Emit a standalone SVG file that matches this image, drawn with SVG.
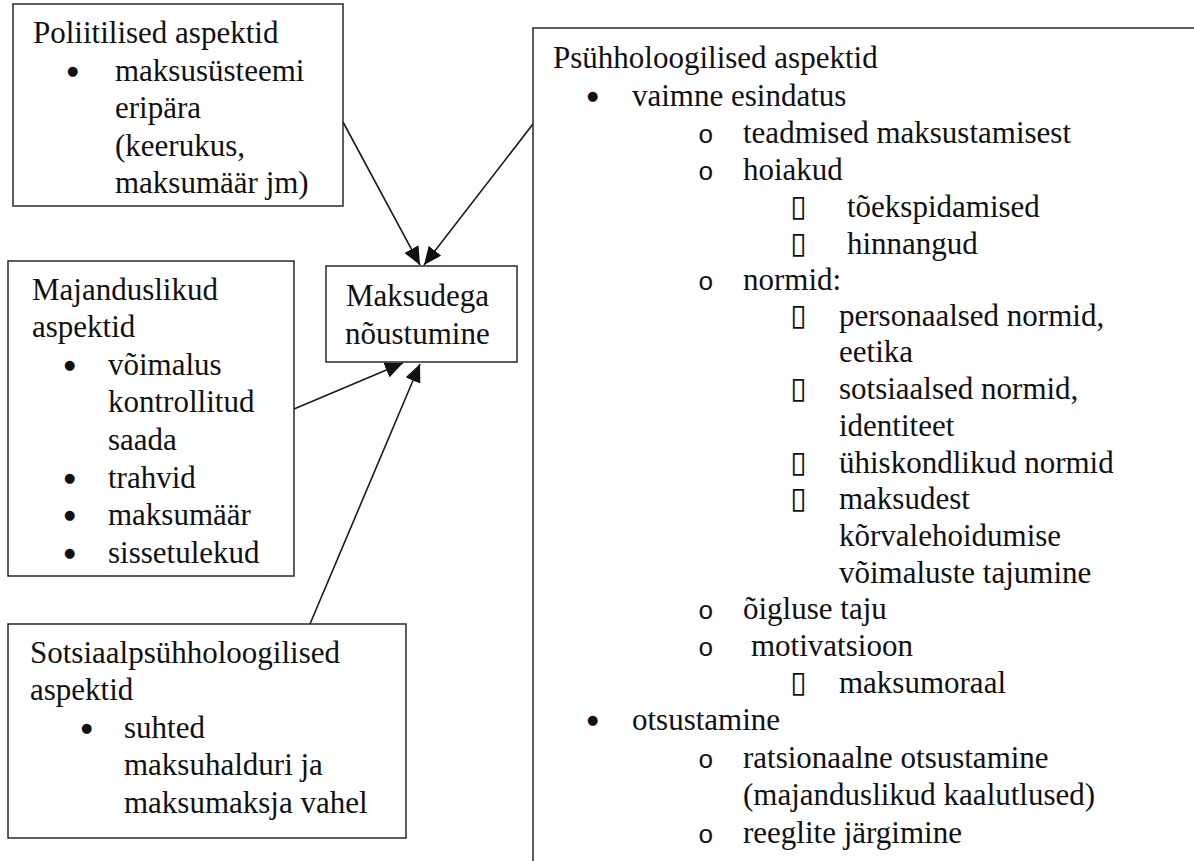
<svg xmlns="http://www.w3.org/2000/svg" width="1194" height="861" viewBox="0 0 1194 861">
<style>
.box{fill:#fff;stroke:#1a1a1a;stroke-width:1.4}
.t{font-family:"Liberation Serif","Times New Roman",serif;font-size:31px;fill:#111}
.b{font-family:"DejaVu Sans",sans-serif;font-size:13px;fill:#111}
.o{font-family:"Liberation Mono","Courier New",monospace;font-size:26px;fill:#111}
.q{font-family:"DejaVu Sans",sans-serif;font-size:30px;fill:#111}
.c{stroke:#1a1a1a;stroke-width:1.6;fill:none;marker-end:url(#ah)}
</style>
<defs>
<marker id="ah" markerUnits="userSpaceOnUse" markerWidth="20" markerHeight="16" refX="18" refY="8" orient="auto" viewBox="0 0 20 16">
<path d="M0,0 L18,8 L0,16 Z" fill="#111"/>
</marker>
</defs>
<rect width="1194" height="861" fill="#fff"/>
<g id="connectors">
<line class="c" x1="343" y1="122" x2="420" y2="265"/>
<line class="c" x1="533" y1="124" x2="424" y2="265"/>
<line class="c" x1="294" y1="409" x2="403" y2="363"/>
<line class="c" x1="310" y1="624" x2="420" y2="364"/>
</g>
<g id="node-poliitilised">
<rect class="box" x="13" y="4" width="330" height="202"/>
<text class="t" x="33" y="43">Poliitilised aspektid</text>
<text class="b" x="67" y="75">●</text>
<text class="t" x="115" y="81">maksusüsteemi</text>
<text class="t" x="115" y="118">eripära</text>
<text class="t" x="115" y="156">(keerukus,</text>
<text class="t" x="115" y="193">maksumäär jm)</text>
</g>
<g id="node-majanduslikud">
<rect class="box" x="8" y="261" width="286" height="315"/>
<text class="t" x="32" y="300">Majanduslikud</text>
<text class="t" x="32" y="337">aspektid</text>
<text class="b" x="64" y="369">●</text>
<text class="t" x="108" y="375">võimalus</text>
<text class="t" x="108" y="412">kontrollitud</text>
<text class="t" x="108" y="450">saada</text>
<text class="b" x="64" y="482">●</text>
<text class="t" x="108" y="488">trahvid</text>
<text class="b" x="64" y="519">●</text>
<text class="t" x="108" y="525">maksumäär</text>
<text class="b" x="64" y="557">●</text>
<text class="t" x="108" y="563">sissetulekud</text>
</g>
<g id="node-maksudega">
<rect class="box" x="326" y="266" width="191" height="96"/>
<text class="t" x="346" y="306">Maksudega</text>
<text class="t" x="345" y="344">nõustumine</text>
</g>
<g id="node-sotsiaal">
<rect class="box" x="8" y="624" width="398" height="214"/>
<text class="t" x="30" y="663">Sotsiaalpsühholoogilised</text>
<text class="t" x="30" y="700">aspektid</text>
<text class="b" x="81" y="732">●</text>
<text class="t" x="124" y="738">suhted</text>
<text class="t" x="124" y="775">maksuhalduri ja</text>
<text class="t" x="124" y="813">maksumaksja vahel</text>
</g>
<g id="node-psyhholoogilised">
<rect class="box" x="533" y="28" width="700" height="900"/>
<text class="t" x="553" y="68">Psühholoogilised aspektid</text>
<text class="b" x="587" y="100">●</text>
<text class="t" x="632" y="106">vaimne esindatus</text>
<text class="o" x="698" y="143">o</text>
<text class="t" x="743" y="143">teadmised maksustamisest</text>
<text class="o" x="698" y="180">o</text>
<text class="t" x="743" y="180">hoiakud</text>
<text class="q" x="790" y="216">▯</text>
<text class="t" x="847" y="217">tõekspidamised</text>
<text class="q" x="790" y="253">▯</text>
<text class="t" x="847" y="254">hinnangud</text>
<text class="o" x="698" y="290">o</text>
<text class="t" x="743" y="290">normid:</text>
<text class="q" x="790" y="325">▯</text>
<text class="t" x="839" y="326">personaalsed normid,</text>
<text class="t" x="839" y="362">eetika</text>
<text class="q" x="790" y="398">▯</text>
<text class="t" x="839" y="399">sotsiaalsed normid,</text>
<text class="t" x="839" y="436">identiteet</text>
<text class="q" x="790" y="472">▯</text>
<text class="t" x="839" y="473">ühiskondlikud normid</text>
<text class="q" x="790" y="508">▯</text>
<text class="t" x="839" y="509">maksudest</text>
<text class="t" x="839" y="546">kõrvalehoidumise</text>
<text class="t" x="839" y="583">võimaluste tajumine</text>
<text class="o" x="698" y="619">o</text>
<text class="t" x="743" y="619">õigluse taju</text>
<text class="o" x="698" y="656">o</text>
<text class="t" x="751" y="656">motivatsioon</text>
<text class="q" x="790" y="692">▯</text>
<text class="t" x="839" y="693">maksumoraal</text>
<text class="b" x="587" y="724">●</text>
<text class="t" x="632" y="730">otsustamine</text>
<text class="o" x="698" y="768">o</text>
<text class="t" x="743" y="768">ratsionaalne otsustamine</text>
<text class="t" x="743" y="805">(majanduslikud kaalutlused)</text>
<text class="o" x="698" y="843">o</text>
<text class="t" x="743" y="843">reeglite järgimine</text>
</g>
</svg>
